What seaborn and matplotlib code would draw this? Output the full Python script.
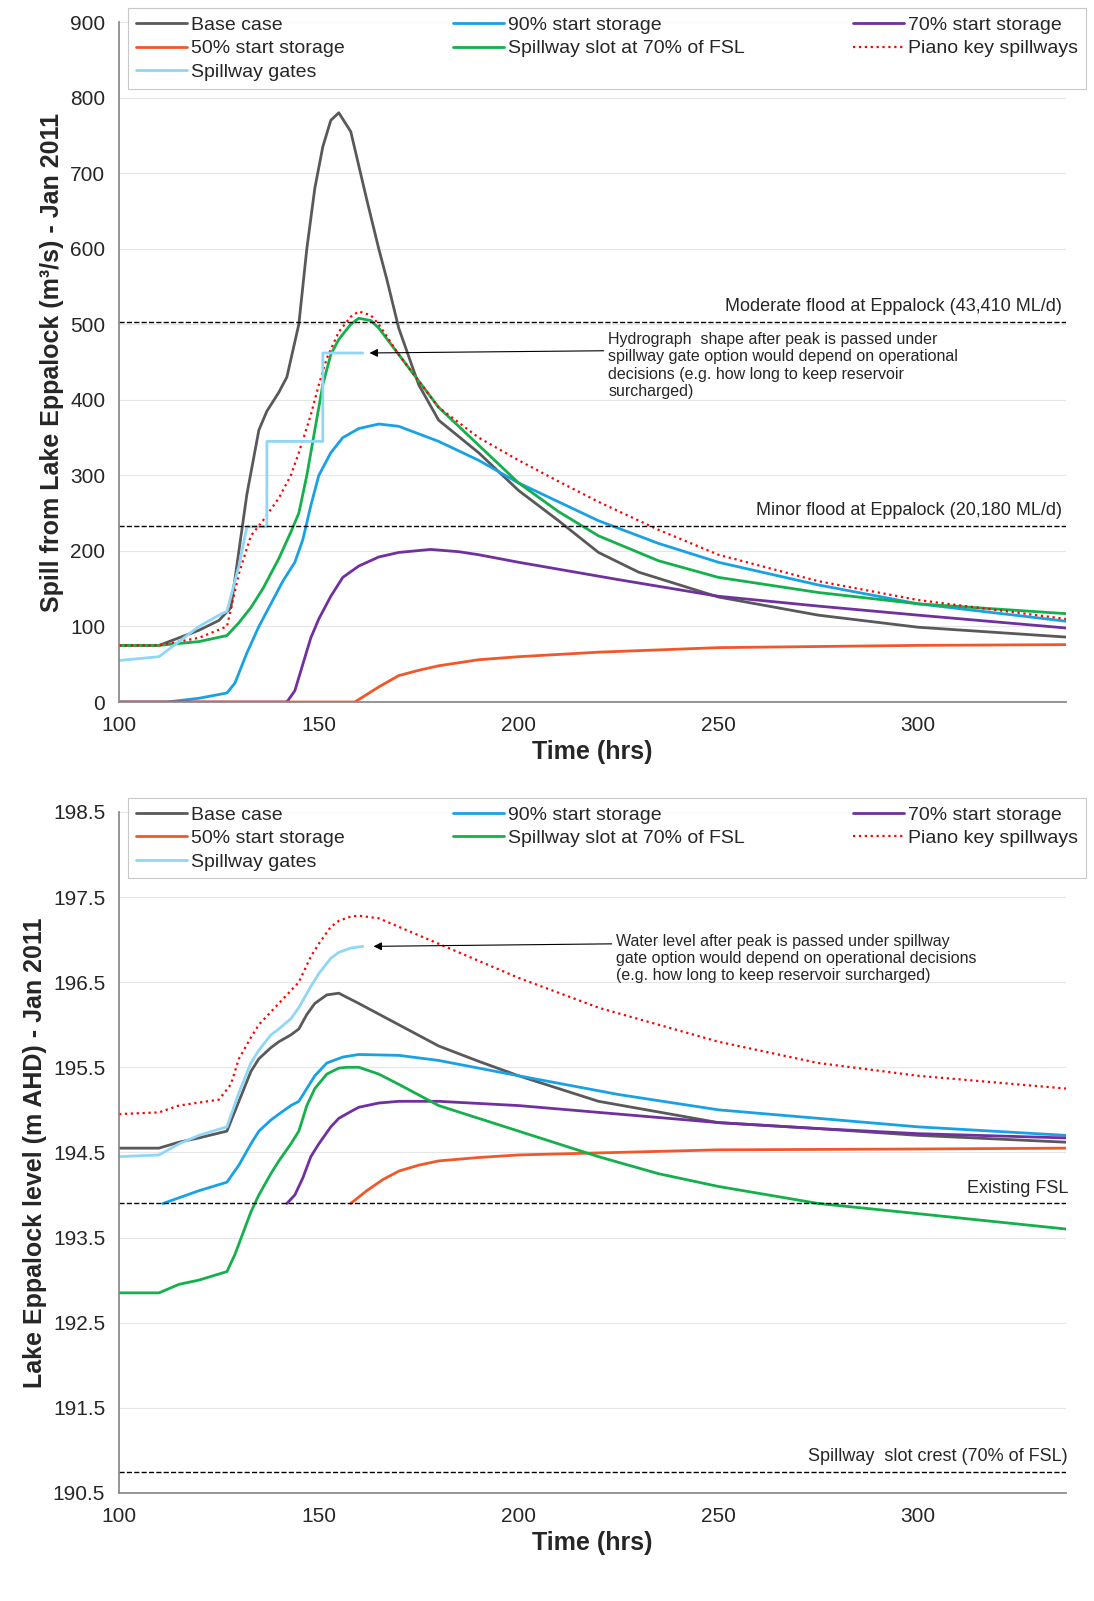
import matplotlib
matplotlib.use("Agg")
import matplotlib.pyplot as plt
import seaborn as sns

sns.set_theme(style="white")
plt.rcParams['font.family'] = ['Liberation Sans', 'DejaVu Sans']

# ---- Top: spill (m3/s) ----
base_x = [100,110,115,120,125,128,130,132,135,137,140,142,145,147,149,151,153,155,158,160,162,165,167,170,175,180,190,200,210,220,230,250,275,300,337]
base_y = [75,75,85,95,108,125,200,275,360,385,410,430,500,600,680,735,770,780,755,710,665,600,560,495,420,373,330,280,240,198,172,139,115,99,86]
s90_x = [100,112,120,127,129,132,135,138,141,144,146,148,150,153,156,160,165,170,180,190,200,210,220,235,250,275,300,337]
s90_y = [0,0,5,12,25,65,100,130,160,185,215,260,300,330,350,362,368,365,345,320,290,265,240,210,185,155,130,107]
s70_x = [100,142,144,146,148,150,153,156,160,165,170,178,185,190,200,225,250,275,300,337]
s70_y = [0,0,15,50,85,110,140,165,180,192,198,202,199,195,185,162,140,127,115,98]
s50_x = [100,159,162,165,170,175,180,190,200,220,250,300,337]
s50_y = [0,0,10,20,35,42,48,56,60,66,72,75,76]
slot_x = [100,110,120,127,130,133,136,140,143,145,147,149,151,153,155,158,160,163,165,170,175,180,190,200,210,220,235,250,275,300,337]
slot_y = [75,75,80,88,105,125,150,190,225,250,300,360,420,460,480,500,508,505,495,460,425,390,340,290,252,220,187,165,145,130,117]
piano_x = [100,110,120,127,130,133,136,140,143,145,148,150,152,155,158,160,163,165,170,175,180,190,200,210,220,235,250,275,300,337]
piano_y = [75,75,85,100,170,220,240,270,300,330,380,420,455,490,510,517,512,500,460,425,390,350,320,292,265,228,195,160,135,110]
gate_x = [100,110,115,120,125,127,130,132,137,137.01,151,151.01,161]
gate_y = [55,60,80,100,115,120,180,232,232,345,345,462,462]

# ---- Bottom: level (m AHD) ----
lbase_x = [100,110,115,120,127,130,133,135,138,140,143,145,147,149,152,155,160,170,180,190,200,220,250,275,300,337]
lbase_y = [194.55,194.55,194.62,194.67,194.75,195.1,195.45,195.6,195.73,195.8,195.88,195.95,196.12,196.25,196.35,196.37,196.25,196.0,195.75,195.57,195.4,195.1,194.85,194.78,194.7,194.62]
l90_x = [111,120,127,130,133,135,138,140,143,145,147,149,152,156,160,170,180,200,225,250,275,300,337]
l90_y = [193.9,194.05,194.15,194.35,194.6,194.75,194.88,194.95,195.05,195.1,195.25,195.4,195.55,195.62,195.65,195.64,195.58,195.4,195.18,195.0,194.9,194.8,194.7]
l70_x = [142,144,146,148,150,153,155,158,160,165,170,180,200,225,250,275,300,337]
l70_y = [193.9,194.0,194.2,194.45,194.6,194.8,194.9,194.98,195.03,195.08,195.1,195.1,195.05,194.95,194.85,194.78,194.72,194.67]
l50_x = [158,162,166,170,175,180,190,200,225,250,300,337]
l50_y = [193.9,194.05,194.18,194.28,194.35,194.4,194.44,194.47,194.5,194.53,194.54,194.55]
lslot_x = [100,110,115,120,127,129,131,133,135,138,140,143,145,147,149,152,155,157,160,165,170,180,190,200,220,235,250,275,300,337]
lslot_y = [192.85,192.85,192.95,193.0,193.1,193.3,193.55,193.8,194.0,194.25,194.4,194.6,194.75,195.05,195.25,195.42,195.49,195.5,195.5,195.42,195.3,195.05,194.9,194.75,194.45,194.25,194.1,193.9,193.78,193.6]
lpiano_x = [100,110,115,125,128,130,133,135,138,140,143,145,148,150,153,155,158,160,165,170,180,190,200,220,235,250,275,300,337]
lpiano_y = [194.95,194.97,195.05,195.12,195.3,195.6,195.85,196.0,196.15,196.25,196.4,196.5,196.8,196.95,197.15,197.22,197.27,197.28,197.25,197.15,196.95,196.75,196.55,196.2,196.0,195.8,195.55,195.4,195.25]
lgate_x = [100,110,115,120,127,130,133,135,138,140,143,145,148,150,153,155,158,161]
lgate_y = [194.45,194.47,194.6,194.7,194.8,195.2,195.55,195.7,195.88,195.95,196.07,196.2,196.45,196.6,196.78,196.85,196.9,196.92]

names = ["Base case", "90% start storage", "70% start storage", "50% start storage",
         "Spillway slot at 70% of FSL", "Piano key spillways", "Spillway gates"]
colors = ["#595959", "#17a2e6", "#7030a0", "#f0582a", "#13b04b", "#ff0000", "#8fd6f7"]
styles = ["-", "-", "-", "-", "-", ":", "-"]
leg_order = [0, 3, 6, 1, 4, 2, 5]

fig = plt.figure(figsize=(10.94, 16.01), dpi=100)
ax1 = fig.add_axes([0.1088, 0.5615, 0.8656, 0.4247])
ax2 = fig.add_axes([0.1088, 0.0675, 0.8656, 0.4254])

top = [(base_x, base_y), (s90_x, s90_y), (s70_x, s70_y), (s50_x, s50_y),
       (slot_x, slot_y), (piano_x, piano_y), (gate_x, gate_y)]
bot = [(lbase_x, lbase_y), (l90_x, l90_y), (l70_x, l70_y), (l50_x, l50_y),
       (lslot_x, lslot_y), (lpiano_x, lpiano_y), (lgate_x, lgate_y)]

for ax, series in ((ax1, top), (ax2, bot)):
    for (x, y), n, c, ls in zip(series, names, colors, styles):
        sns.lineplot(x=x, y=y, ax=ax, color=c, linestyle=ls, lw=2 if ls == "-" else 1.6,
                     label=n, estimator=None, sort=False)
    ax.set_xlim(100, 337)
    ax.set_xticks([100, 150, 200, 250, 300])
    ax.grid(axis="y", color="#e6e6e6", lw=0.8)
    for s in ("top", "right"):
        ax.spines[s].set_visible(False)
    for s in ("left", "bottom"):
        ax.spines[s].set_color("#888888")
    ax.tick_params(labelsize=15, length=0, pad=10)
    ax.set_xlabel("Time (hrs)", fontsize=18, fontweight="bold", labelpad=4)
    h, l = ax.get_legend_handles_labels()
    leg = ax.legend([h[i] for i in leg_order], [l[i] for i in leg_order],
                    ncol=3, loc="upper left", bbox_to_anchor=(0.01, 1.02), fontsize=14,
                    frameon=True, fancybox=False, edgecolor="#bbbbbb", handlelength=2.6,
                    columnspacing=5.6, borderaxespad=0, handletextpad=0.2, labelspacing=0.3,
                    borderpad=0.4)
    leg.get_frame().set_linewidth(0.8)

ax1.set_ylim(0, 900)
ax1.set_yticks(range(0, 901, 100))
ax1.set_ylabel("Spill from Lake Eppalock (m³/s) - Jan 2011", fontsize=18, fontweight="bold")
ax1.axhline(503, color="black", ls="--", lw=1)
ax1.axhline(233, color="black", ls="--", lw=1)
ax1.text(336, 512, "Moderate flood at Eppalock (43,410 ML/d)", ha="right", va="bottom", fontsize=13)
ax1.text(336, 242, "Minor flood at Eppalock (20,180 ML/d)", ha="right", va="bottom", fontsize=13)
ax1.text(222.5, 490, "Hydrograph  shape after peak is passed under\nspillway gate option would depend on operational\ndecisions (e.g. how long to keep reservoir\nsurcharged)",
         fontsize=11.5, va="top", ha="left", linespacing=1.2)
ax1.annotate("", xy=(162, 462), xytext=(222, 465),
             arrowprops=dict(arrowstyle="-|>", color="black", lw=0.8))

ax2.set_ylim(190.5, 198.5)
ax2.set_yticks([190.5 + i for i in range(9)])
ax2.set_ylabel("Lake Eppalock level (m AHD) - Jan 2011", fontsize=18, fontweight="bold")
ax2.axhline(193.9, color="black", ls="--", lw=1)
ax2.axhline(190.75, color="black", ls="--", lw=1)
ax2.text(337.5, 193.98, "Existing FSL", ha="right", va="bottom", fontsize=13)
ax2.text(337.5, 190.83, "Spillway  slot crest (70% of FSL)", ha="right", va="bottom", fontsize=13)
ax2.text(224.5, 197.07, "Water level after peak is passed under spillway\ngate option would depend on operational decisions\n(e.g. how long to keep reservoir surcharged)",
         fontsize=11.5, va="top", ha="left", linespacing=1.2)
ax2.annotate("", xy=(163, 196.92), xytext=(224, 196.95),
             arrowprops=dict(arrowstyle="-|>", color="black", lw=0.8))

fig.savefig("out.png", dpi=100)
